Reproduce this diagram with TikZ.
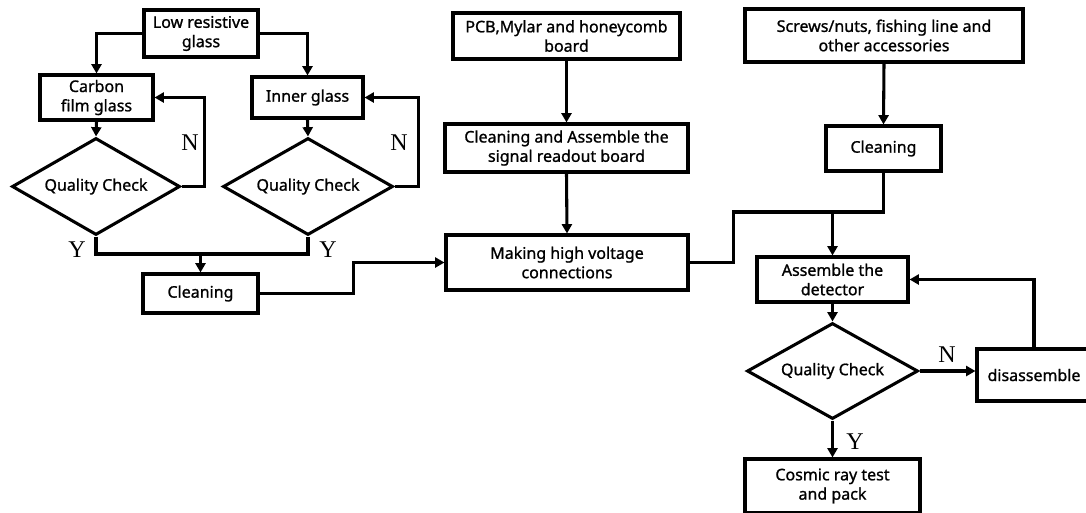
\documentclass[tikz,border=0pt]{standalone}
\usepackage{fontspec}
\setmainfont{Noto Sans}
\newfontfamily\boxfont[FakeBold=1.1]{Noto Sans}
\newfontfamily\ynfont{Liberation Serif}
\usetikzlibrary{arrows.meta,shapes.geometric}

\tikzset{
  box/.style={draw, line width=2.3pt, align=center, inner sep=0pt, font=\boxfont\fontsize{12}{14.5}\selectfont},
  check/.style={draw, diamond, aspect=1.7, line width=2.3pt, inner sep=0pt, font=\boxfont\fontsize{12}{14.5}\selectfont},
  flow/.style={line width=2.3pt, -{Triangle[length=7pt,width=7.5pt]}},
  link/.style={line width=2.3pt},
  yn/.style={inner sep=0pt, font=\ynfont\fontsize{18}{18}\selectfont}
}

\begin{document}
\begin{tikzpicture}[x=0.75pt,y=0.75pt,yscale=-1,xscale=1]
\useasboundingbox (0,0) rectangle (1086,512);
\clip (0,0) rectangle (1086,512);

%Glass branch
\node[box, minimum width=85.5pt, minimum height=35.25pt] (low) at (201,33.5) {Low resistive\\glass};
\node[box, minimum width=84.75pt, minimum height=33.75pt] (carbon) at (96.5,97.5) {Carbon\\film glass};
\node[box, minimum width=83.25pt, minimum height=30.75pt] (inner) at (307.5,97.5) {Inner glass};
\node[check, minimum width=126pt, minimum height=72.75pt] (qcA) at (96,186.5) {Quality Check};
\node[check, minimum width=127.5pt, minimum height=72.75pt] (qcB) at (308,186.5) {Quality Check};
\node[box, minimum width=86.25pt, minimum height=29.25pt] (cleanA) at (200.5,293.5) {Cleaning};
\coordinate (merge) at (200.5,254);

%Readout board branch
\node[box, minimum width=170.25pt, minimum height=34.5pt] (pcb) at (566.5,36) {PCB,Mylar and honeycomb\\board};
\node[box, minimum width=182.25pt, minimum height=36pt] (readout) at (566.5,148) {Cleaning and Assemble the\\signal readout board};
\node[box, minimum width=181.5pt, minimum height=41.25pt] (hv) at (567,262.5) {Making high voltage\\connections};

%Accessories branch
\node[box, minimum width=208.5pt, minimum height=39.75pt] (screws) at (884,35.5) {Screws/nuts, fishing line and\\other accessories};
\node[box, minimum width=86.25pt, minimum height=33.75pt] (cleanB) at (883.5,148.5) {Cleaning};
\coordinate (junc) at (832.5,212);

%Detector
\node[box, minimum width=113.25pt, minimum height=33.75pt] (assemble) at (832.5,279.5) {Assemble the\\detector};
\node[check, minimum width=128.25pt, minimum height=72pt] (qcC) at (832.5,371) {Quality Check};
\node[box, minimum width=85.5pt, minimum height=39pt] (dis) at (1034,375) {disassemble};
\node[box, minimum width=131.25pt, minimum height=40.5pt] (cosmic) at (832.5,486) {Cosmic ray test\\and pack};

%Connectors
\draw[flow] (low.west) -| (carbon.north);
\draw[flow] (low.east) -| (inner.north);
\draw[flow] (carbon.south) -- (qcA.north);
\draw[flow] (inner.south) -- (qcB.north);
\draw[flow] (qcA.east) -- ++(23,0) |- (carbon.east);
\draw[flow] (qcB.east) -- ++(24,0) |- (inner.east);
\draw[link] (qcA.south) |- (merge) -| (qcB.south);
\draw[flow] (merge) -- (cleanA.north);
\draw[flow] (cleanA.east) -- ++(94,0) |- (hv.west);
\draw[flow] (pcb.south) -- (readout.north);
\draw[flow] (readout.south) -- (hv.north);
\draw[flow] (screws.south) -- (cleanB.north);
\draw[link] (cleanB.south) |- (junc);
\draw[link] (hv.east) -- ++(44,0) |- (junc);
\draw[flow] (junc) -- (assemble.north);
\draw[flow] (assemble.south) -- (qcC.north);
\draw[flow] (qcC.east) -- (qcC.east -| dis.west);
\draw[flow] (dis.north) |- (assemble.east);
\draw[flow] (qcC.south) -- (cosmic.north);

% Text Node
\node[yn] (nA) at (190,143) {N};
\node[yn] (nB) at (399,143) {N};
\node[yn] (yA) at (77,250) {Y};
\node[yn] (yB) at (328,250) {Y};
\node[yn] (nC) at (947,355) {N};
\node[yn] (yC) at (855,442) {Y};

\end{tikzpicture}
\end{document}
